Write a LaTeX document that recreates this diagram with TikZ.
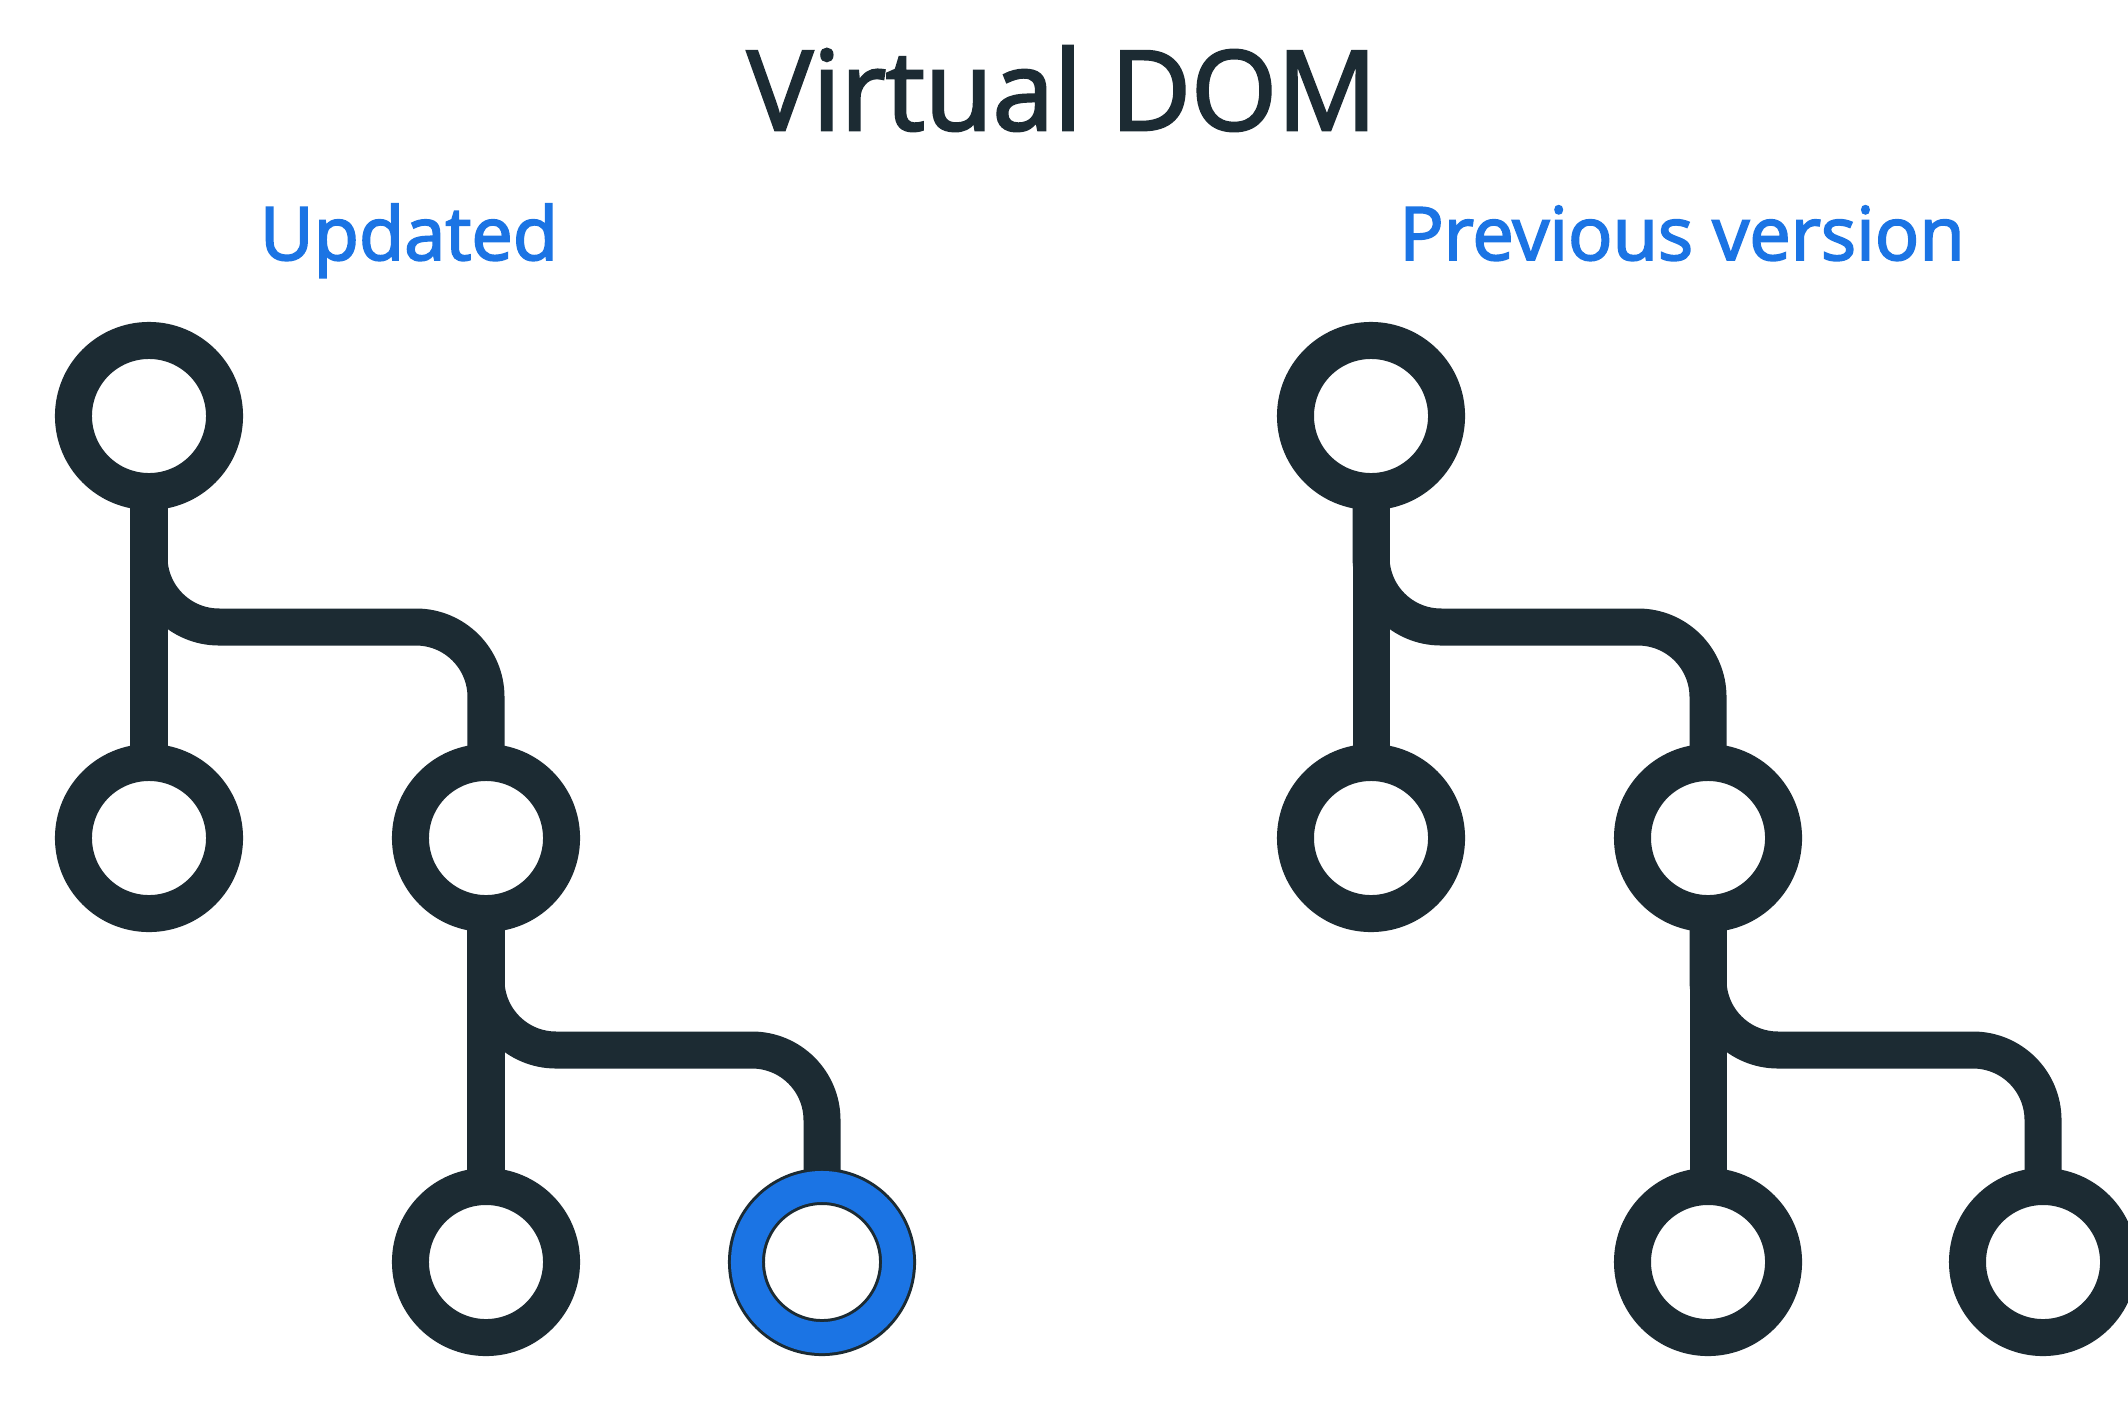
\documentclass[tikz,border=0pt]{standalone}
\usepackage{fontspec}
\setmainfont{Open Sans}
\newfontfamily\domfont{Open Sans}[FakeBold=2.5]
\usepackage{xcolor}
\usetikzlibrary{positioning,calc,backgrounds}

\definecolor{domdark}{HTML}{1C2B33}
\definecolor{domblue}{HTML}{1B74E4}

\begin{document}
\begin{tikzpicture}[x=0.01cm, y=-0.01cm,
    dnode/.style={circle, draw=domdark, line width=0.37cm, fill=white, minimum size=1.51cm, inner sep=0pt},
    newnode/.style={dnode, line width=0.03cm, double=domblue, double distance=0.31cm},
    link/.style={draw=domdark, line width=0.37cm, rounded corners=0.7cm},
    lbl/.style={text=domblue, anchor=base, font=\domfont\fontsize{21}{25}\selectfont}]
    \useasboundingbox (0,0) rectangle (2128,1424);

    \node (title) [anchor=base, text=domdark, font=\domfont\fontsize{31.4}{37}\selectfont] at (1062,130) {Virtual DOM};
    \node (updlbl) [lbl] at (409,260) {Updated};
    \node (prevlbl) [lbl] at (1682,260) {Previous version};

    % updated tree
    \node (u0) [dnode] at (149,416) {};
    \node (u1) [dnode] at (149,838) {};
    \node (u2) [dnode] at (486,838) {};
    \node (u3) [dnode] at (486,1262) {};
    \node (u4) [newnode] at (822,1262) {};

    % previous tree
    \node (p0) [dnode] at (1371,416) {};
    \node (p1) [dnode] at (1371,838) {};
    \node (p2) [dnode] at (1708,838) {};
    \node (p3) [dnode] at (1708,1262) {};
    \node (p4) [dnode] at (2043,1262) {};

    \begin{scope}[on background layer]
        \fill [white] (0,0) rectangle (2128,1424);
        \draw [link] (u0.center) -- (u1.center);
        \draw [link] (u0.center) -- ($(u0)!.5!(u1)$) -| (u2.center);
        \draw [link] (u2.center) -- (u3.center);
        \draw [link] (u2.center) -- ($(u2)!.5!(u3)$) -| (u4.center);
        \draw [link] (p0.center) -- (p1.center);
        \draw [link] (p0.center) -- ($(p0)!.5!(p1)$) -| (p2.center);
        \draw [link] (p2.center) -- (p3.center);
        \draw [link] (p2.center) -- ($(p2)!.5!(p3)$) -| (p4.center);
    \end{scope}
\end{tikzpicture}
\end{document}
